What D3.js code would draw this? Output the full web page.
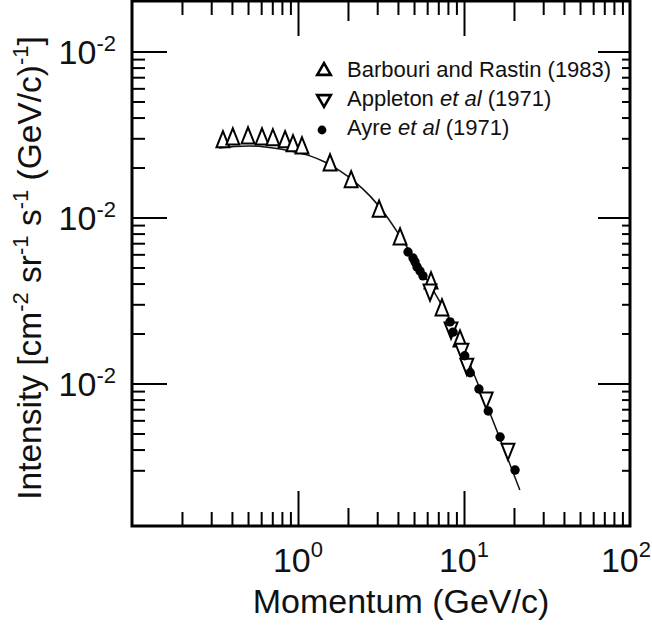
<!DOCTYPE html>
<html><head><meta charset="utf-8">
<script src="https://cdn.jsdelivr.net/npm/d3@7"></script>
<style>
html,body{margin:0;padding:0;background:#fff;}
svg{display:block;font-family:"Liberation Sans",Arial,Helvetica,sans-serif;}
</style></head><body>
<svg id="chart" width="652" height="629"></svg>
<script>
// ---- data ----
const barbouriMomentum  = [0.353, 0.405, 0.50, 0.607, 0.706, 0.836, 0.933, 1.057, 1.56, 2.09, 3.08, 4.12, 6.33, 7.37, 9.46];
const barbouriIntensity = [2.85e-3, 2.97e-3, 3.01e-3, 2.97e-3, 2.93e-3, 2.85e-3, 2.70e-3, 2.62e-3, 2.07e-3, 1.64e-3, 1.09e-3, 7.42e-4, 4.03e-4, 2.77e-4, 1.80e-4];

const appletonMomentum  = [6.24, 8.35, 9.72, 10.4, 13.6, 18.4];
const appletonIntensity = [3.66e-4, 2.16e-4, 1.61e-4, 1.31e-4, 8.18e-5, 4.03e-5];

const ayreMomentum  = [4.60, 4.93, 5.07, 5.21, 5.43, 5.66, 8.24, 8.59, 10.1, 10.9, 12.3, 14.0, 16.5, 20.3];
const ayreIntensity = [6.20e-4, 5.70e-4, 5.40e-4, 5.04e-4, 4.76e-4, 4.45e-4, 2.35e-4, 2.04e-4, 1.47e-4, 1.16e-4, 9.27e-5, 6.83e-5, 4.76e-5, 3.01e-5];

const fitMomentum  = [0.334, 0.417, 0.514, 0.632, 0.780, 0.959, 1.18, 1.45, 1.79, 2.20, 2.71, 3.34, 4.11, 5.07, 6.24, 7.69, 9.46, 11.6, 14.4, 17.7, 21.7];
const fitIntensity = [2.62e-3, 2.68e-3, 2.70e-3, 2.66e-3, 2.59e-3, 2.48e-3, 2.35e-3, 2.16e-3, 1.91e-3, 1.64e-3, 1.35e-3, 1.05e-3, 7.74e-4, 5.55e-4, 3.92e-4, 2.73e-4, 1.83e-4, 1.11e-4, 6.55e-5, 3.87e-5, 2.28e-5];

const xMajorTicks = [1, 10];
const xMinorTicks = [0.2,0.3,0.4,0.5,0.6,0.7,0.8,0.9, 2,3,4,5,6,7,8,9, 20,30,40,50,60,70,80,90];
const xTickValues = [1, 10, 100];
const xTickBase = ["10", "10", "10"];
const xTickExp  = ["0", "1", "2"];

const yMajorTicks = [1e-2, 1e-3, 1e-4];
const yMinorTicks = [3e-5,4e-5,5e-5,6e-5,7e-5,8e-5,9e-5, 2e-4,3e-4,4e-4,5e-4,6e-4,7e-4,8e-4,9e-4, 2e-3,3e-3,4e-3,5e-3,6e-3,7e-3,8e-3,9e-3];
const yTickBase = ["10", "10", "10"];
const yTickExp  = ["-2", "-2", "-2"];

const legendLabels = [
  [{t:"Barbouri and Rastin (1983)"}],
  [{t:"Appleton "},{t:"et al",i:true},{t:" (1971)"}],
  [{t:"Ayre "},{t:"et al",i:true},{t:" (1971)"}]
];

// ---- layout ----
const W = 652;
const L = 132, R = 630, T = 1, B = 526;
const svg = d3.select("#chart");
const x = d3.scaleLog().domain([0.1, 100]).range([L, R]);
const y = d3.scaleLog().domain([Math.pow(10, -2 - (B - 51.5) / 166), Math.pow(10, -2 + (51.5 - T) / 166)]).range([B, T]);

function tickAxis(axisGen, transform, values, size) {
  const g = svg.append("g").attr("transform", transform)
    .call(axisGen.tickValues(values).tickSize(size).tickSizeOuter(0).tickFormat(""));
  g.select(".domain").remove();
  g.selectAll(".tick line").attr("stroke", "#000").attr("stroke-width", 2);
  return g;
}
const isTwo = v => String(v)[0] === "2";
// bottom
tickAxis(d3.axisBottom(x), `translate(0,${B})`, xMajorTicks, -35);
tickAxis(d3.axisBottom(x), `translate(0,${B})`, xMinorTicks.filter(isTwo), -18);
tickAxis(d3.axisBottom(x), `translate(0,${B})`, xMinorTicks.filter(v => !isTwo(v)), -14);
// top
tickAxis(d3.axisTop(x), `translate(0,${T})`, xMajorTicks, -35);
tickAxis(d3.axisTop(x), `translate(0,${T})`, xMinorTicks.filter(isTwo), -20);
tickAxis(d3.axisTop(x), `translate(0,${T})`, xMinorTicks.filter(v => !isTwo(v)), -14);
// left
tickAxis(d3.axisLeft(y), `translate(${L},0)`, yMajorTicks, -35);
tickAxis(d3.axisLeft(y), `translate(${L},0)`, yMinorTicks, -13);
// right
tickAxis(d3.axisRight(y), `translate(${R},0)`, yMajorTicks, -32);
tickAxis(d3.axisRight(y), `translate(${R},0)`, yMinorTicks, -8);

// frame
svg.append("rect").attr("x", L).attr("y", T).attr("width", R - L).attr("height", B - T)
  .attr("fill", "none").attr("stroke", "#000").attr("stroke-width", 3);

// tick labels (kept inside the page at the right edge)
xTickValues.forEach((v, i) => {
  const t = svg.append("text").attr("x", x(v)).attr("y", 572).attr("text-anchor", "middle")
    .attr("font-size", 34).attr("fill", "#111");
  t.append("tspan").text(xTickBase[i]);
  t.append("tspan").attr("font-size", 22).attr("dy", -15).text(xTickExp[i]);
  const bb = t.node().getBBox();
  if (bb.x + bb.width > W - 1) t.attr("text-anchor", "end").attr("x", W - 1);
});
yMajorTicks.forEach((v, i) => {
  const t = svg.append("text").attr("x", 116).attr("y", y(v) + 12).attr("text-anchor", "end")
    .attr("font-size", 34).attr("fill", "#111");
  t.append("tspan").text(yTickBase[i]);
  t.append("tspan").attr("font-size", 22).attr("dy", -13).text(yTickExp[i]);
});

// axis titles
svg.append("text").attr("x", 401).attr("y", 613).attr("text-anchor", "middle")
  .attr("font-size", 34).attr("fill", "#111").text("Momentum (GeV/c)");

const yt = svg.append("text").attr("transform", "translate(41,268) rotate(-90)")
  .attr("text-anchor", "middle").attr("font-size", 33.5).attr("fill", "#111");
const parts = [["Intensity [cm",0],["-2",1],[" sr",0],["-1",1],[" s",0],["-1",1],[" (GeV/c)",0],["-1",1],["]",0]];
let up = false;
parts.forEach(([s, sup]) => {
  const ts = yt.append("tspan").text(s);
  if (sup && !up) { ts.attr("dy", -13).attr("font-size", 22); up = true; }
  else if (sup) { ts.attr("font-size", 22); }
  else if (up) { ts.attr("dy", 13); up = false; }
});

// fit line
const pts = fitMomentum.map((p, i) => [p, fitIntensity[i]]);
svg.append("path").datum(pts)
  .attr("d", d3.line().x(d => x(d[0])).y(d => y(d[1])).curve(d3.curveCatmullRom.alpha(0.5)))
  .attr("fill", "none").attr("stroke", "#111").attr("stroke-width", 1.5);

// tall triangle symbol (height = 1.25 * width), centred on its centroid
const tallTriangle = {
  draw(ctx, size) {
    const w = Math.sqrt(2 * size / 1.25), h = 1.25 * w;
    ctx.moveTo(0, -2 * h / 3);
    ctx.lineTo(w / 2, h / 3);
    ctx.lineTo(-w / 2, h / 3);
    ctx.closePath();
  }
};
const markSym = d3.symbol().type(tallTriangle).size(104);
function triangles(ps, is, down) {
  svg.append("g").selectAll("path").data(ps.map((p, i) => [p, is[i]])).join("path")
    .attr("d", markSym)
    .attr("transform", d => `translate(${x(d[0])},${y(d[1])})${down ? " rotate(180)" : ""}`)
    .attr("fill", "#fff").attr("stroke", "#000").attr("stroke-width", 2);
}
triangles(barbouriMomentum, barbouriIntensity, false);
triangles(appletonMomentum, appletonIntensity, true);
svg.append("g").selectAll("circle").data(ayreMomentum.map((p, i) => [p, ayreIntensity[i]])).join("circle")
  .attr("cx", d => x(d[0])).attr("cy", d => y(d[1])).attr("r", 4.7).attr("fill", "#000");

// legend
const legY = [77, 106, 135];
const lg = svg.append("g");
const legSym = d3.symbol().type(d3.symbolTriangle).size(80);
lg.append("path").attr("d", legSym).attr("transform", `translate(324,${legY[0]-6})`)
  .attr("fill", "#fff").attr("stroke", "#000").attr("stroke-width", 2.6);
lg.append("path").attr("d", legSym).attr("transform", `translate(324,${legY[1]-7}) rotate(180)`)
  .attr("fill", "#fff").attr("stroke", "#000").attr("stroke-width", 2.6);
lg.append("circle").attr("cx", 322).attr("cy", legY[2] - 5).attr("r", 4.4).attr("fill", "#000");
legendLabels.forEach((segs, i) => {
  const t = lg.append("text").attr("x", 347).attr("y", legY[i]).attr("font-size", 22).attr("fill", "#111");
  segs.forEach(s => { const ts = t.append("tspan").text(s.t); if (s.i) ts.attr("font-style", "italic"); });
});
</script>
</body></html>
